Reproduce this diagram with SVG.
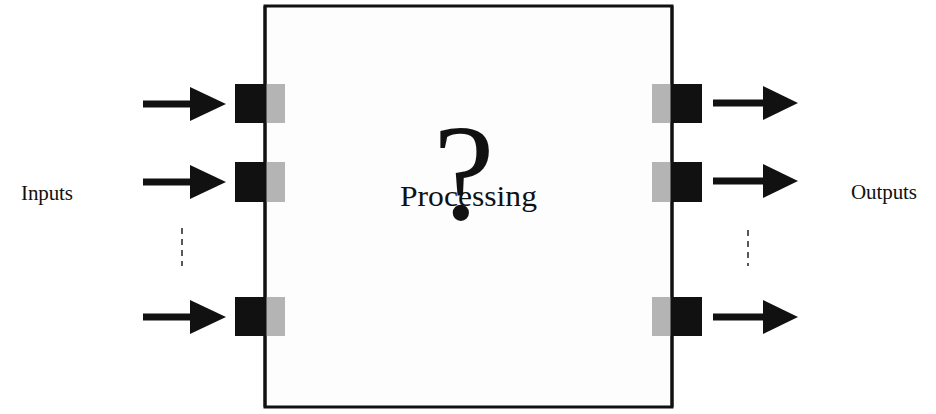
<svg xmlns="http://www.w3.org/2000/svg" width="936" height="414" viewBox="0 0 936 414">
<defs>
<style>
.blk{fill:#111;}
.gry{fill:#b4b4b4;}
.lbl{font-family:"Liberation Serif",serif;fill:#111;}
.dash{stroke:#222;stroke-width:1.5;stroke-dasharray:6 5;fill:none;}
</style>
<g id="arrowL"><rect x="143" y="-3.5" width="49" height="7" class="blk"/><polygon points="190,-17 226,0 190,17" class="blk"/></g>
<g id="arrowR"><rect x="713" y="-3.5" width="52" height="7" class="blk"/><polygon points="763,-17 798,0 763,17" class="blk"/></g>
</defs>
<rect width="936" height="414" fill="#fff"/>
<g id="processing">
<rect x="265" y="6" width="407" height="401" fill="#fdfdfd" stroke="#111" stroke-width="3"/>
<text x="464" y="219" class="lbl" font-size="138" text-anchor="middle">?</text>
<text x="400" y="206" class="lbl" font-size="30" textLength="137" lengthAdjust="spacingAndGlyphs">Processing</text>
</g>
<g id="in1"><rect x="235" y="84" width="31" height="39" class="blk"/><rect x="266" y="84" width="19" height="39" class="gry"/></g>
<g id="in2"><rect x="235" y="162" width="31" height="40" class="blk"/><rect x="266" y="162" width="19" height="40" class="gry"/></g>
<g id="in3"><rect x="235" y="297" width="31" height="39" class="blk"/><rect x="266" y="297" width="19" height="39" class="gry"/></g>
<g id="out1"><rect x="652" y="84" width="20" height="39" class="gry"/><rect x="672" y="84" width="30" height="39" class="blk"/></g>
<g id="out2"><rect x="652" y="162" width="20" height="40" class="gry"/><rect x="672" y="162" width="30" height="40" class="blk"/></g>
<g id="out3"><rect x="652" y="297" width="20" height="39" class="gry"/><rect x="672" y="297" width="30" height="39" class="blk"/></g>
<line x1="265" y1="6" x2="265" y2="407" stroke="#111" stroke-width="3"/>
<line x1="672" y1="6" x2="672" y2="407" stroke="#111" stroke-width="3"/>
<g id="inputs"><text x="21" y="200" class="lbl" font-size="21" textLength="52" lengthAdjust="spacing">Inputs</text></g>
<g id="outputs"><text x="851" y="199" class="lbl" font-size="21" textLength="66" lengthAdjust="spacing">Outputs</text></g>
<g id="connectors">
<use href="#arrowL" transform="translate(0,104)"/>
<use href="#arrowL" transform="translate(0,182)"/>
<use href="#arrowL" transform="translate(0,317)"/>
<use href="#arrowR" transform="translate(0,103)"/>
<use href="#arrowR" transform="translate(0,181)"/>
<use href="#arrowR" transform="translate(0,317)"/>
<line x1="182" y1="228" x2="182" y2="266" class="dash"/>
<line x1="748" y1="230" x2="748" y2="266" class="dash"/>
</g>
</svg>
